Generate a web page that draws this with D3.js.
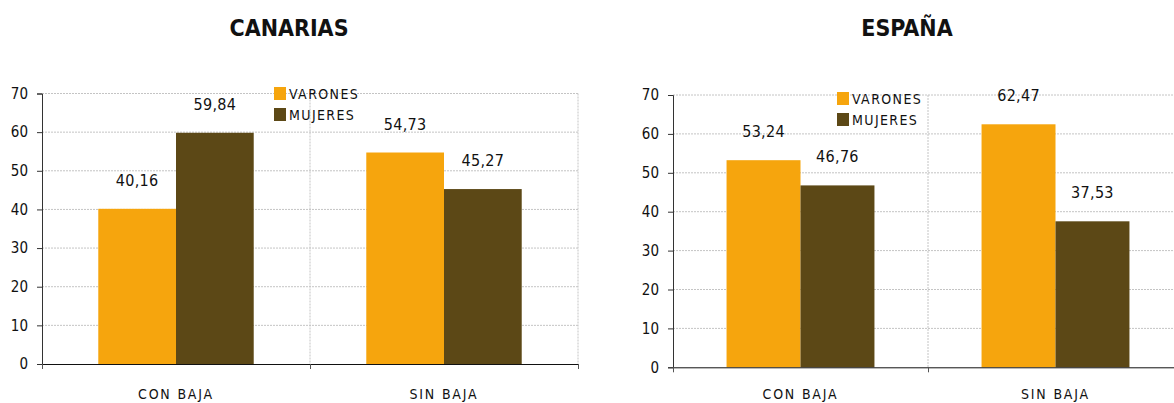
<!DOCTYPE html>
<html>
<head>
<meta charset="utf-8">
<script src="https://cdn.jsdelivr.net/npm/d3@7"></script>
<style>
  body { margin: 0; background: #fff; }
  svg { display: block; font-family: "DejaVu Sans Condensed", "DejaVu Sans", sans-serif; }
</style>
</head>
<body>
<svg id="vis"></svg>
<script>
// Datos
const categorias = ["CON BAJA", "SIN BAJA"];
const series = ["VARONES", "MUJERES"];
const canariasVarones = [40.16, 54.73];
const canariasMujeres = [59.84, 45.27];
const espanaVarones = [53.24, 62.47];
const espanaMujeres = [46.76, 37.53];
const ticksY = [0, 10, 20, 30, 40, 50, 60, 70];

const WIDTH = 1174;
const HEIGHT = 403;
const colores = d3.scaleOrdinal().domain(series).range(["#F6A50D", "#5C4816"]);

const svg = d3.select("#vis")
    .attr("width", WIDTH)
    .attr("height", HEIGHT);

const fmt = v => d3.format(".2f")(v).replace(".", ",");

function dibujar(titulo, varones, mujeres, caja, leyenda) {
    const datos = categorias.map((c, i) => ({ cat: c, VARONES: varones[i], MUJERES: mujeres[i] }));

    const escalaX = d3.scaleBand().domain(categorias).range([caja.left, caja.right]).padding(0);
    const escalaSub = d3.scaleBand().domain(series)
        .range([escalaX.bandwidth() * 0.21, escalaX.bandwidth() * 0.79]);
    const escalaY = d3.scaleLinear().domain([0, 70]).range([caja.bottom, caja.top]);

    const g = svg.append("g");

    // Rejilla horizontal
    g.append("g")
        .selectAll("line")
        .data(ticksY.filter(d => d > 0))
        .join("line")
        .attr("x1", caja.left)
        .attr("x2", caja.right)
        .attr("y1", d => escalaY(d))
        .attr("y2", d => escalaY(d))
        .attr("stroke", "#c4c4c4")
        .attr("stroke-dasharray", "2,1");

    // Rejilla vertical
    g.append("g")
        .selectAll("line")
        .data(categorias)
        .join("line")
        .attr("x1", d => escalaX(d) + escalaX.bandwidth())
        .attr("x2", d => escalaX(d) + escalaX.bandwidth())
        .attr("y1", caja.top)
        .attr("y2", caja.bottom)
        .attr("stroke", "#c4c4c4")
        .attr("stroke-dasharray", "2,1");

    // Barras
    g.append("g")
        .selectAll("g")
        .data(datos)
        .join("g")
        .attr("transform", d => `translate(${escalaX(d.cat)},0)`)
        .selectAll("rect")
        .data(d => series.map(s => ({ s, v: d[s] })))
        .join("rect")
        .attr("x", d => escalaSub(d.s))
        .attr("width", escalaSub.bandwidth())
        .attr("y", d => escalaY(d.v))
        .attr("height", d => escalaY(0) - escalaY(d.v))
        .attr("fill", d => colores(d.s));

    // Etiquetas de valores
    g.append("g")
        .selectAll("g")
        .data(datos)
        .join("g")
        .attr("transform", d => `translate(${escalaX(d.cat)},0)`)
        .selectAll("text")
        .data(d => series.map(s => ({ s, v: d[s] })))
        .join("text")
        .attr("x", d => escalaSub(d.s) + escalaSub.bandwidth() / 2)
        .attr("y", d => escalaY(d.v) - 23)
        .attr("text-anchor", "middle")
        .attr("font-size", 16)
        .attr("letter-spacing", 0.3)
        .attr("fill", "#111")
        .text(d => fmt(d.v));

    // Eje Y
    const ejeY = d3.axisLeft(escalaY).tickValues(ticksY).tickSize(5).tickPadding(9);
    g.append("g")
        .attr("transform", `translate(${caja.left},0)`)
        .call(ejeY)
        .call(s => s.selectAll("path, line").attr("stroke", "#333"))
        .call(s => s.selectAll("text").attr("font-size", 15).attr("fill", "#111")
            .style("font-family", "'DejaVu Sans Condensed', sans-serif"));

    // Eje X
    const escalaLim = d3.scaleLinear().domain([0, categorias.length]).range([caja.left, caja.right]);
    g.append("g")
        .attr("transform", `translate(0,${caja.bottom})`)
        .call(d3.axisBottom(escalaLim).tickValues(d3.range(categorias.length + 1)).tickFormat("").tickSize(5).tickSizeOuter(0))
        .call(s => s.selectAll("path").attr("stroke", "#111"))
        .call(s => s.selectAll("line").attr("stroke", "#555"));

    // Categorías
    g.append("g")
        .selectAll("text")
        .data(categorias)
        .join("text")
        .attr("x", d => escalaX(d) + escalaX.bandwidth() / 2)
        .attr("y", Math.min(caja.bottom + 37, 399))
        .attr("text-anchor", "middle")
        .attr("font-size", 14)
        .attr("letter-spacing", 1.8)
        .attr("fill", "#111")
        .text(d => d);

    // Título
    g.append("text")
        .attr("x", (caja.left + caja.right) / 2 - 21)
        .attr("y", 36)
        .attr("text-anchor", "middle")
        .attr("font-size", 23)
        .attr("font-weight", "bold")
        .attr("fill", "#111")
        .text(titulo);

    // Leyenda
    const ley = g.append("g")
        .selectAll("g")
        .data(series)
        .join("g")
        .attr("transform", (d, i) => `translate(${leyenda.x},${leyenda.y + i * 21})`);
    ley.append("rect")
        .attr("width", 12)
        .attr("height", 13)
        .attr("fill", d => colores(d));
    ley.append("text")
        .attr("x", 15)
        .attr("y", 11.5)
        .attr("font-size", 14)
        .attr("letter-spacing", 1.4)
        .attr("fill", "#111")
        .text(d => d);
}

dibujar("CANARIAS", canariasVarones, canariasMujeres,
    { left: 42, right: 578, top: 93.5, bottom: 364 }, { x: 274, y: 87 });
dibujar("ESPAÑA", espanaVarones, espanaMujeres,
    { left: 673, right: 1183, top: 95, bottom: 367.3 }, { x: 837, y: 92 });
</script>
</body>
</html>
